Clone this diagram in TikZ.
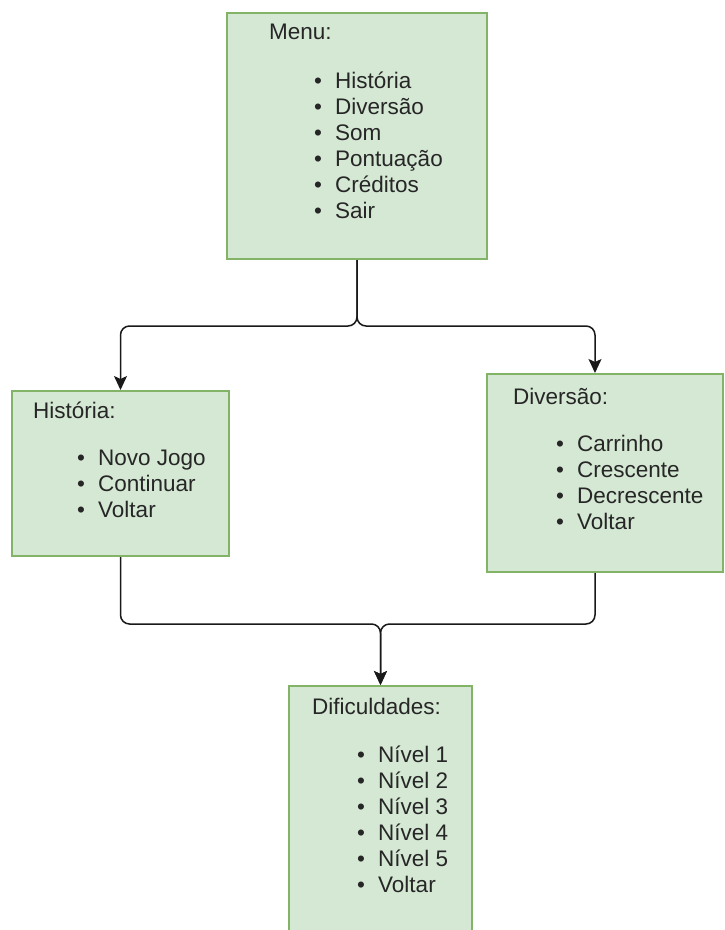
\documentclass[tikz,border=0pt]{standalone}
\usepackage{fontspec}
\setmainfont{Liberation Sans}
\usetikzlibrary{arrows.meta}
\definecolor{boxfill}{HTML}{D5E8D4}
\definecolor{boxline}{HTML}{82B366}
\newcommand{\bul}{\makebox[21pt][l]{\textbullet}}

\begin{document}
\begin{tikzpicture}[x=1pt,y=-1pt,
  box/.style={draw=boxline, fill=boxfill, line width=2pt, inner sep=0pt},
  lbl/.style={inner sep=0pt, font=\fontsize{22.5}{26}\selectfont, text=black!85},
  link/.style={draw=black!90, line width=1.5pt, rounded corners=9pt,
    -{Stealth[length=14pt,width=13pt,inset=3pt]}}]
\useasboundingbox (0,0) rectangle (725,930);
\fill[white] (0,0) rectangle (725,930);

% boxes
\node[box, minimum width=260, minimum height=246] (menu) at (357,136) {};
\node[box, minimum width=217, minimum height=165] (historia) at (120.5,473.5) {};
\node[box, minimum width=236, minimum height=198] (diversao) at (605,473) {};
\node[box, minimum width=183, minimum height=290] (dific) at (380.5,831) {};

% connectors
\draw[link] (menu.south) -- ++(0,66) -| (historia.north);
\draw[link] (menu.south) -- ++(0,66) -| ([xshift=-10pt]diversao.north);
\draw[link] (historia.south) -- ++(0,67) -| (dific.north);
\draw[link] ([xshift=-10pt]diversao.south) -- ++(0,51) -| (dific.north);

% Menu
\node[lbl, anchor=base west] (menu-title) at (269,39) {Menu:};
\foreach \t [count=\i] in {História,Diversão,Som,Pontuação,Créditos,Sair}
  \node[lbl, anchor=base west] (menu-\i) at (314,{88+(\i-1)*26}) {\bul\t};

% Historia
\node[lbl, anchor=base west] (historia-title) at (33,418) {História:};
\foreach \t [count=\i] in {Novo Jogo,Continuar,Voltar}
  \node[lbl, anchor=base west] (historia-\i) at (77,{465+(\i-1)*26}) {\bul\t};

% Diversao
\node[lbl, anchor=base west] (diversao-title) at (513,404) {Diversão:};
\foreach \t [count=\i] in {Carrinho,Crescente,Decrescente,Voltar}
  \node[lbl, anchor=base west] (diversao-\i) at (556,{451+(\i-1)*26}) {\bul\t};

% Dificuldades
\node[lbl, anchor=base west] (dific-title) at (312,714) {Dificuldades:};
\foreach \t [count=\i] in {Nível 1,Nível 2,Nível 3,Nível 4,Nível 5,Voltar}
  \node[lbl, anchor=base west] (dific-\i) at (357,{762+(\i-1)*26}) {\bul\t};
\end{tikzpicture}
\end{document}
